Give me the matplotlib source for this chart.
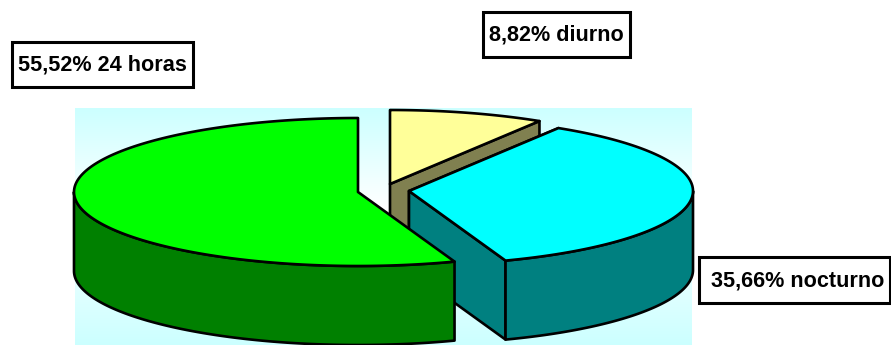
import numpy as np
import matplotlib
matplotlib.use('Agg')
import matplotlib.pyplot as plt
from matplotlib.patches import Polygon, Rectangle
from matplotlib.colors import LinearSegmentedColormap

# ─── DATA ─────────────────────────────────────────────────────────────────
categories = ["diurno", "nocturno", "24 horas"]
values     = [8.82, 35.66, 55.52]
labels     = ["8,82% diurno", "35,66% nocturno", "55,52% 24 horas"]

# ─── STYLE ────────────────────────────────────────────────────────────────
top_colors  = ["#FFFF99", "#00FFFF", "#00FF00"]
side_colors = ["#808050", "#008080", "#008000"]
apex_xy     = [(390, 184), (409, 191), (358, 192)]   # exploded slices
label_boxes = [(483, 12, 147, 45), (699, 257, 191, 46), (12, 42, 181, 45)]
label_text  = [(556, 33), (798, 279), (102, 63)]
RX, RY, DEPTH = 284, 74, 79

plt.rcParams['font.family'] = ['Liberation Sans', 'DejaVu Sans']

fig = plt.figure(figsize=(8.91, 3.45), dpi=100, facecolor='white')
ax = fig.add_axes([0, 0, 1, 1])
ax.set_xlim(0, 891)
ax.set_ylim(345, 0)
ax.axis('off')

# plot area background: pale cyan, fading to white around the middle
bg = LinearSegmentedColormap.from_list('bg', [(0, '#CCFFFF'), (0.42, '#FFFFFF'), (1, '#CCFFFF')])
grad = np.linspace(0, 1, 256).reshape(-1, 1)
ax.imshow(grad, cmap=bg, extent=[75, 692, 345, 108], aspect='auto', zorder=0)
ax.set_xlim(0, 891)
ax.set_ylim(345, 0)


def rim(cx, cy, t0, t1):
    # t in degrees, clockwise from the top of the ellipse
    t = np.radians(np.linspace(t0, t1, 200))
    return np.column_stack([cx + RX*np.sin(t), cy - RY*np.cos(t)])


edge = dict(edgecolor='black', linewidth=1.9, joinstyle='round')
z = 1
start = 0.0
for val, top, side, (cx, cy) in zip(values, top_colors, side_colors, apex_xy):
    end = start + val*3.6
    drop = np.array([0, DEPTH])

    # cut face at the start angle, only seen when it faces the viewer
    if start < 90:
        pts = rim(cx, cy, start, start)[:1]
        apex = np.array([[cx, cy]])
        face = np.vstack([apex, pts, pts + drop, apex + drop])
        ax.add_patch(Polygon(face, facecolor=side, zorder=z, **edge))
    # cut face at the end angle
    if end < 180:
        pts = rim(cx, cy, end, end)[:1]
        apex = np.array([[cx, cy]])
        face = np.vstack([apex, pts, pts + drop, apex + drop])
        ax.add_patch(Polygon(face, facecolor=side, zorder=z, **edge))

    # outer wall, front half of the ellipse only
    w0, w1 = max(start, 90), min(end, 270)
    if w1 > w0:
        arc = rim(cx, cy, w0, w1)
        wall = np.vstack([arc, (arc + drop)[::-1]])
        ax.add_patch(Polygon(wall, facecolor=side, zorder=z, **edge))

    # top of the slice
    arc = rim(cx, cy, start, end)
    ax.add_patch(Polygon(np.vstack([[cx, cy], arc]), facecolor=top, zorder=z, **edge))

    start = end
    z += 1

# ─── LABELS ───────────────────────────────────────────────────────────────
for txt, (x, y, w, h), (tx, ty) in zip(labels, label_boxes, label_text):
    ax.add_patch(Rectangle((x, y), w, h, facecolor='white', edgecolor='black',
                           linewidth=2.2, zorder=10))
    ax.text(tx, ty, txt, ha='center', va='center_baseline',
            fontsize=15.6, fontweight='bold', color='black', zorder=11)

fig.savefig('out.png', dpi=100)
